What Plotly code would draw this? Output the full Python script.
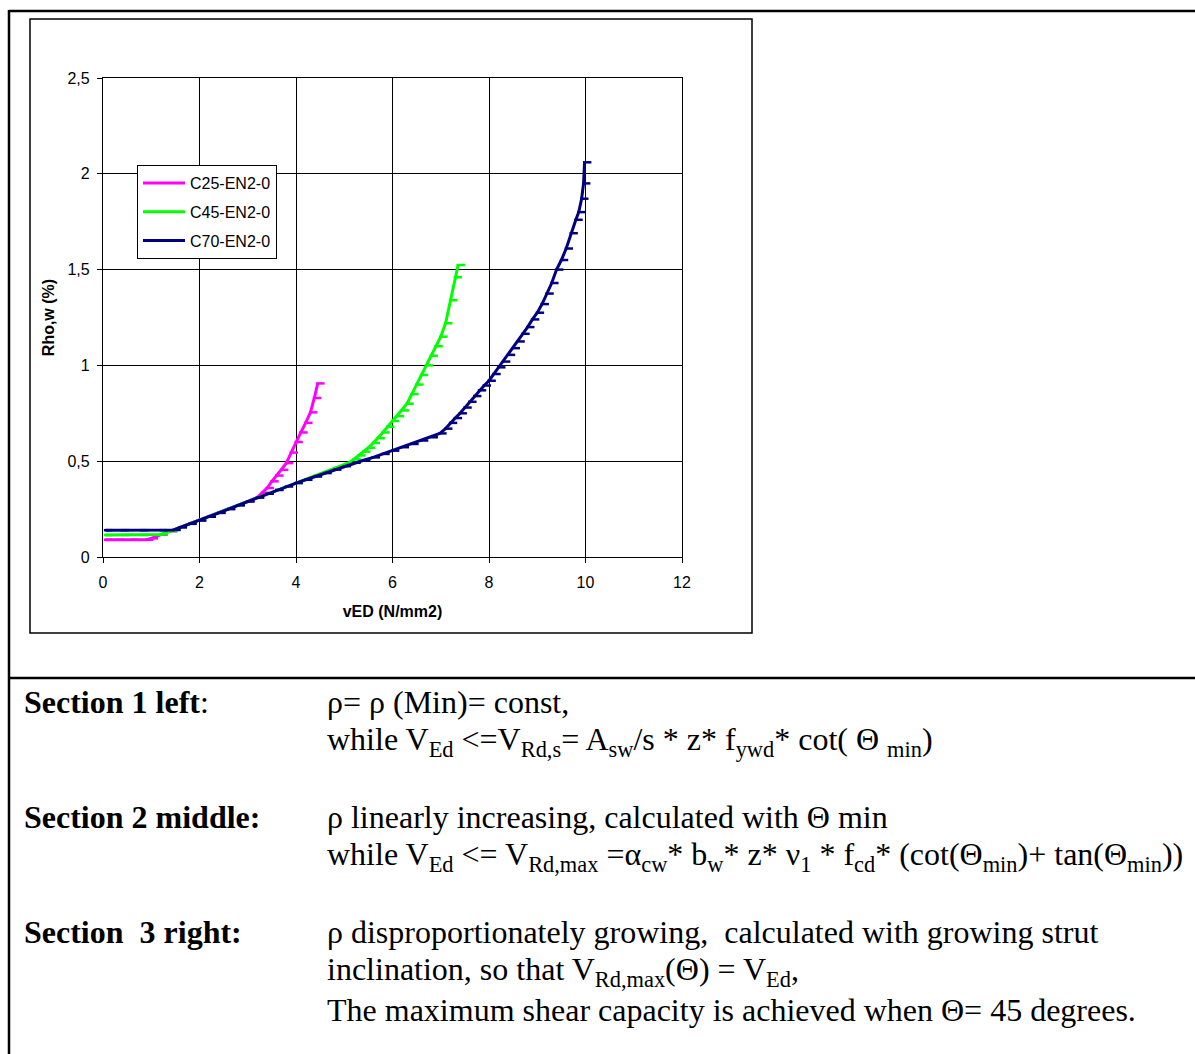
import plotly.graph_objects as go

# Required shear reinforcement ratio rho_w (%) against design shear stress vEd (N/mm2)
c25_v = [0.05, 0.3, 0.6, 0.9, 1.0, 1.2, 1.4, 1.6, 1.8, 2.0, 2.2, 2.4, 2.6, 2.8, 3.0, 3.2,
         3.3, 3.4, 3.5, 3.6, 3.7, 3.8, 3.9, 4.0, 4.1, 4.2, 4.3, 4.38, 4.45]
c25_rho = [0.09, 0.09, 0.09, 0.09, 0.097, 0.116, 0.135, 0.155, 0.174, 0.193, 0.212, 0.232,
           0.251, 0.27, 0.29, 0.312, 0.335, 0.36, 0.395, 0.425, 0.455, 0.49, 0.545, 0.60,
           0.65, 0.70, 0.755, 0.83, 0.906]

c45_v = [0.05, 0.4, 0.8, 1.2, 1.4, 1.6, 1.8, 2.0, 2.4, 2.8, 3.2, 3.6, 4.0, 4.4, 4.8, 5.1,
         5.2, 5.3, 5.4, 5.5, 5.6, 5.7, 5.8, 5.9, 6.0, 6.1, 6.2, 6.3, 6.4, 6.5, 6.6, 6.7,
         6.8, 6.9, 7.0, 7.1, 7.2, 7.3, 7.36]
c45_rho = [0.115, 0.115, 0.115, 0.118, 0.135, 0.155, 0.174, 0.193, 0.232, 0.27, 0.31, 0.35,
           0.386, 0.425, 0.463, 0.492, 0.51, 0.53, 0.55, 0.57, 0.595, 0.62, 0.65, 0.68,
           0.71, 0.735, 0.765, 0.80, 0.85, 0.90, 0.95, 1.00, 1.05, 1.10, 1.15, 1.22, 1.34,
           1.46, 1.524]

c70_v = [0.05, 0.4, 0.8, 1.2, 1.47, 1.6, 1.8, 2.0, 2.2, 2.4, 2.6, 2.8, 3.0, 3.2, 3.4, 3.6,
         3.8, 4.0, 4.2, 4.4, 4.6, 4.8, 5.0, 5.2, 5.4, 5.6, 5.8, 6.0, 6.2, 6.4, 6.6, 6.8,
         6.98, 7.1, 7.2, 7.3, 7.4, 7.5, 7.6, 7.7, 7.8, 7.9, 8.0, 8.1, 8.2, 8.3, 8.4, 8.5,
         8.6, 8.7, 8.8, 8.9, 9.0, 9.1, 9.2, 9.3, 9.4, 9.5, 9.6, 9.7, 9.8, 9.86, 9.92, 9.96,
         9.98]
c70_rho = [0.14, 0.14, 0.14, 0.14, 0.141, 0.155, 0.173, 0.19, 0.21, 0.23, 0.25, 0.27, 0.29,
           0.31, 0.33, 0.35, 0.368, 0.386, 0.403, 0.42, 0.438, 0.456, 0.474, 0.492, 0.505,
           0.52, 0.538, 0.555, 0.573, 0.59, 0.608, 0.625, 0.645, 0.67, 0.70, 0.725, 0.75,
           0.78, 0.81, 0.84, 0.87, 0.895, 0.92, 0.955, 0.99, 1.02, 1.055, 1.09, 1.125,
           1.165, 1.20, 1.24, 1.275, 1.32, 1.375, 1.43, 1.50, 1.55, 1.61, 1.69, 1.76, 1.80,
           1.87, 1.95, 2.06]

series_names = ["C25-EN2-0", "C45-EN2-0", "C70-EN2-0"]
series_v = [c25_v, c45_v, c70_v]
series_rho = [c25_rho, c45_rho, c70_rho]
series_colors = ["#FF00FF", "#00FF00", "#000080"]

x_ticks = [0, 2, 4, 6, 8, 10, 12]
y_ticks = [0, 0.5, 1, 1.5, 2, 2.5]

W, H = 1195, 1054
PL, PR, PT, PB = 103, 682, 78, 557  # plot area in pixels


def px(x):
    return (x - PL) / (PR - PL)


def py(y):
    return (PB - y) / (PB - PT)


fig = go.Figure()
marker_shift = 0.055  # dash markers sit just right of the curve
for name, v, rho, col in zip(series_names, series_v, series_rho, series_colors):
    fig.add_trace(go.Scatter(
        x=v, y=rho, name=name, mode="lines", legendgroup=name,
        line=dict(color=col, width=3),
    ))
    fig.add_trace(go.Scatter(
        x=[a + marker_shift for a in v], y=rho, mode="markers", legendgroup=name,
        showlegend=False, hoverinfo="skip",
        marker=dict(symbol="line-ew", size=6, color=col, line=dict(color=col, width=2.5)),
    ))

axis_font = dict(family="Arial, Liberation Sans", size=16, color="black")
title_font = dict(family="Arial, Liberation Sans", size=16, color="black")

fig.update_xaxes(
    range=[0, 12], tickvals=x_ticks, ticks="outside", ticklen=5, tickcolor="black",
    showgrid=True, gridcolor="black", gridwidth=1.3, showline=True, linecolor="black",
    linewidth=1.3, mirror=True, zeroline=False, tickfont=axis_font, ticklabelstandoff=6,
    title=dict(text="<b>vED (N/mm2)</b>", font=title_font, standoff=15),
)
fig.update_yaxes(
    range=[0, 2.5], tickvals=y_ticks, ticks="outside", ticklen=5, tickcolor="black",
    showgrid=True, gridcolor="black", gridwidth=1.3, showline=True, linecolor="black",
    linewidth=1.3, mirror=True, zeroline=False, tickfont=axis_font, ticklabelstandoff=4,
    title=dict(text="<b>Rho,w (%)</b>", font=title_font, standoff=8),
)

shapes = [
    # page frame and divider
    dict(type="line", x0=px(9), x1=px(1195), y0=py(11), y1=py(11), line=dict(color="black", width=2.5)),
    dict(type="line", x0=px(9), x1=px(9), y0=py(10), y1=py(1054), line=dict(color="black", width=2.5)),
    dict(type="line", x0=px(9), x1=px(1195), y0=py(678), y1=py(678), line=dict(color="black", width=2.5)),
    # chart box
    dict(type="rect", x0=px(30), x1=px(752), y0=py(19), y1=py(633), line=dict(color="black", width=1.5)),
]
for s in shapes:
    s.update(xref="paper", yref="paper", layer="below")

serif = "Times New Roman, Liberation Serif, serif"
label_col = px(22)
body_col = px(325)
rows = [
    (702, "<b>Section 1 left</b>:", "ρ= ρ (Min)= const,"),
    (741, None, "while V<sub>Ed</sub> &lt;=V<sub>Rd,s</sub>= A<sub>sw</sub>/s * z* f<sub>ywd</sub>* cot( Θ <sub>min</sub>)"),
    (817, "<b>Section 2 middle:</b>", "ρ linearly increasing, calculated with Θ min"),
    (856, None, "while V<sub>Ed</sub> &lt;= V<sub>Rd,max</sub> =α<sub>cw</sub>* b<sub>w</sub>* z* ν<sub>1</sub> * f<sub>cd</sub>* (cot(Θ<sub>min</sub>)+ tan(Θ<sub>min</sub>))"),
    (932, "<b>Section \u00a03 right:</b>", "ρ disproportionately growing, \u00a0calculated with growing strut"),
    (971, None, "inclination, so that V<sub>Rd,max</sub>(Θ) = V<sub>Ed</sub>,"),
    (1010, None, "The maximum shear capacity is achieved when Θ= 45 degrees."),
]
annotations = []
for ypix, label, body in rows:
    if label:
        annotations.append(dict(x=label_col, y=py(ypix), text=label))
    annotations.append(dict(x=body_col, y=py(ypix), text=body))
for a in annotations:
    a.update(xref="paper", yref="paper", xanchor="left", yanchor="middle", showarrow=False,
             font=dict(family=serif, size=32, color="black"))

fig.update_layout(
    width=W, height=H, autosize=False,
    margin=dict(l=PL, r=W - PR, t=PT, b=H - PB, pad=0),
    paper_bgcolor="white", plot_bgcolor="white",
    separators=",.",
    showlegend=True,
    legend=dict(
        x=px(137), y=py(165), xanchor="left", yanchor="top",
        bgcolor="white", bordercolor="black", borderwidth=1,
        font=dict(family="Arial, Liberation Sans", size=16, color="black"),
        tracegroupgap=5, itemwidth=42,
    ),
    shapes=shapes,
    annotations=annotations,
)

fig.write_html("out.html")
